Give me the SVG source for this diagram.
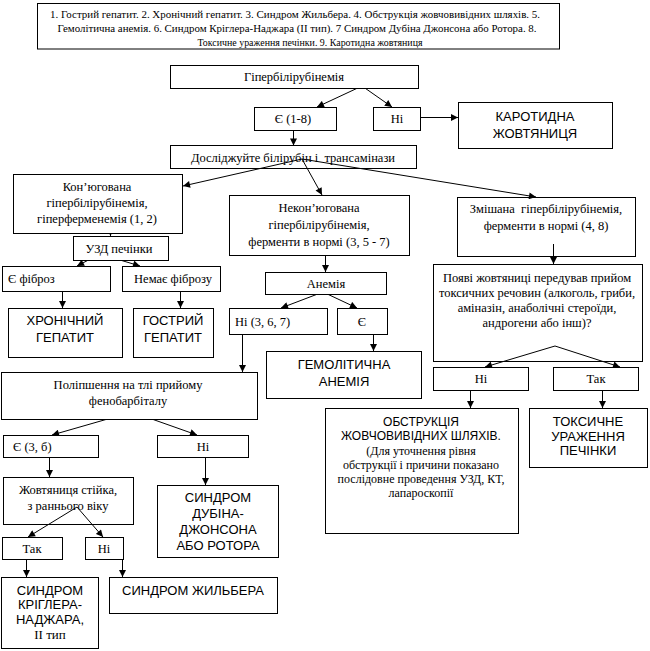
<svg xmlns="http://www.w3.org/2000/svg" width="650" height="651" viewBox="0 0 650 651">
<style>
.box{fill:#fff;stroke:#000;stroke-width:1}
.s{font-family:"Liberation Serif","Times New Roman",serif;font-size:12.5px;fill:#000;text-anchor:middle}
.l{font-family:"Liberation Serif","Times New Roman",serif;font-size:12.5px;fill:#000}
.c{font-family:"Liberation Sans",Arial,sans-serif;font-size:13px;fill:#000;text-anchor:middle}
.g{font-family:"Liberation Serif","Times New Roman",serif;font-size:10.5px;fill:#000;text-anchor:middle}
.ln{stroke:#000;stroke-width:1;fill:none}
.a{marker-end:url(#ah)}
</style>
<defs>
<marker id="ah" viewBox="0 0 10 10" refX="10" refY="5" markerWidth="8" markerHeight="7" markerUnits="userSpaceOnUse" orient="auto"><path d="M0,0 L10,5 L0,10 z" fill="#000"/></marker>
</defs>
<rect width="650" height="651" fill="#fff"/>
<g id="legend">
<rect class="box" x="37.5" y="3.5" width="522" height="45.5"/>
<text class="g" x="295" y="18" textLength="490" lengthAdjust="spacingAndGlyphs">1. Гострий гепатит. 2. Хронічний гепатит. 3. Синдром Жильбера. 4. Обструкція жовчовивідних шляхів. 5.</text>
<text class="g" x="297" y="32" textLength="479" lengthAdjust="spacingAndGlyphs">Гемолітична анемія. 6. Синдром Кріглера-Наджара (ІІ тип). 7 Синдром Дубіна Джонсона або Ротора. 8.</text>
<text class="g" x="310" y="45.5" textLength="225" lengthAdjust="spacingAndGlyphs">Токсичне ураження печінки. 9. Каротидна жовтяниця</text>
</g>
<g id="connectors">
<line class="ln a" x1="362" y1="86" x2="317" y2="107"/>
<line class="ln a" x1="362" y1="86" x2="392" y2="107"/>
<line class="ln a" x1="293.5" y1="125" x2="293.5" y2="145.5"/>
<line class="ln a" x1="420.5" y1="117.5" x2="458" y2="117.5"/>
<line class="ln a" x1="302" y1="159" x2="183" y2="186"/>
<line class="ln a" x1="302" y1="159" x2="322" y2="195"/>
<line class="ln a" x1="302" y1="159" x2="536" y2="197"/>
<line class="ln a" x1="110.5" y1="225" x2="110.5" y2="236"/>
<line class="ln a" x1="100" y1="254" x2="77" y2="266"/>
<line class="ln a" x1="100" y1="254" x2="140" y2="266"/>
<line class="ln" x1="97" y1="254.5" x2="156" y2="254.5"/>
<line class="ln a" x1="62.5" y1="281" x2="62.5" y2="308"/>
<line class="ln a" x1="180.5" y1="281" x2="180.5" y2="308"/>
<line class="ln a" x1="325.5" y1="232" x2="325.5" y2="272"/>
<line class="ln a" x1="323" y1="292" x2="281" y2="308"/>
<line class="ln a" x1="323" y1="292" x2="357" y2="308"/>
<line class="ln a" x1="373.5" y1="328" x2="373.5" y2="351"/>
<line class="ln a" x1="242.5" y1="329" x2="242.5" y2="372"/>
<line class="ln a" x1="132" y1="412" x2="52" y2="435"/>
<line class="ln a" x1="132" y1="412" x2="197" y2="435"/>
<line class="ln a" x1="49.5" y1="455" x2="49.5" y2="477"/>
<line class="ln a" x1="205.5" y1="455" x2="205.5" y2="485"/>
<line class="ln a" x1="77" y1="507" x2="28" y2="537"/>
<line class="ln a" x1="77" y1="507" x2="103" y2="537"/>
<line class="ln a" x1="26.5" y1="555" x2="26.5" y2="577"/>
<line class="ln a" x1="122.5" y1="555" x2="122.5" y2="577"/>
<line class="ln a" x1="553.5" y1="244" x2="553.5" y2="264"/>
<line class="ln a" x1="555" y1="346" x2="485" y2="367"/>
<line class="ln a" x1="555" y1="346" x2="620" y2="367"/>
<line class="ln a" x1="470.5" y1="386" x2="470.5" y2="408"/>
<line class="ln a" x1="602.5" y1="386" x2="602.5" y2="408"/>
</g>
<g id="n1"><rect class="box" x="170.5" y="65.5" width="248" height="23"/><text class="s" x="294" y="81">Гіпербілірубінемія</text></g>
<g id="n2"><rect class="box" x="254.5" y="107.5" width="82" height="23"/><text class="s" x="293" y="123">Є (1-8)</text></g>
<g id="n3"><rect class="box" x="373.5" y="107.5" width="47" height="23"/><text class="s" x="397" y="123">Ні</text></g>
<g id="n4"><rect class="box" x="458.5" y="102.5" width="154" height="46"/><text class="c" x="535" y="121">КАРОТИДНА</text><text class="c" x="535" y="138">ЖОВТЯНИЦЯ</text></g>
<g id="n5"><rect class="box" x="170.5" y="145.5" width="246" height="23" fill-opacity="0"/><text class="s" x="293" y="162" xml:space="preserve">Досліджуйте білірубін і  трансамінази</text></g>
<g id="n6"><rect class="box" x="13.5" y="174.5" width="169" height="59"/><text class="s" x="97" y="191">Кон’югована</text><text class="s" x="97" y="207">гіпербілірубінемія,</text><text class="s" x="97" y="223">гіперферменемія (1, 2)</text></g>
<g id="n7"><rect class="box" x="73.5" y="236.5" width="95" height="24"/><text class="s" x="119" y="253">УЗД печінки</text></g>
<g id="n8"><rect class="box" x="2.5" y="266.5" width="108" height="25"/><text class="l" x="8" y="283">Є фіброз</text></g>
<g id="n9"><rect class="box" x="122.5" y="266.5" width="98" height="25"/><text class="s" x="173" y="283">Немає фіброзу</text></g>
<g id="n10"><rect class="box" x="8.5" y="308.5" width="114" height="49"/><text class="c" x="65" y="325">ХРОНІЧНИЙ</text><text class="c" x="65" y="342">ГЕПАТИТ</text></g>
<g id="n11"><rect class="box" x="133.5" y="308.5" width="80" height="49"/><text class="c" x="173" y="325">ГОСТРИЙ</text><text class="c" x="173" y="342">ГЕПАТИТ</text></g>
<g id="n12"><rect class="box" x="229.5" y="195.5" width="180" height="60"/><text class="s" x="319" y="212">Некон’югована</text><text class="s" x="319" y="229">гіпербілірубінемія,</text><text class="s" x="319" y="246">ферменти в нормі (3, 5 - 7)</text></g>
<g id="n13"><rect class="box" x="265.5" y="272.5" width="121" height="22"/><text class="s" x="326" y="288">Анемія</text></g>
<g id="n14"><rect class="box" x="229.5" y="308.5" width="98" height="26"/><text class="l" x="235" y="326">Ні (3, 6, 7)</text></g>
<g id="n15"><rect class="box" x="337.5" y="308.5" width="50" height="26"/><text class="s" x="362" y="326">Є</text></g>
<g id="n16"><rect class="box" x="266.5" y="351.5" width="155" height="47"/><text class="c" x="344" y="369">ГЕМОЛІТИЧНА</text><text class="c" x="344" y="386">АНЕМІЯ</text></g>
<g id="n17"><rect class="box" x="1.5" y="372.5" width="256" height="47"/><text class="s" x="128" y="389">Поліпшення на тлі прийому</text><text class="s" x="128" y="405">фенобарбіталу</text></g>
<g id="n18"><rect class="box" x="3.5" y="435.5" width="95" height="22"/><text class="l" x="13" y="451">Є (3, б)</text></g>
<g id="n19"><rect class="box" x="157.5" y="435.5" width="91" height="22"/><text class="s" x="203" y="451">Ні</text></g>
<g id="n20"><rect class="box" x="3.5" y="477.5" width="130" height="47" fill-opacity="0"/><text class="s" x="68" y="494">Жовтяниця стійка,</text><text class="s" x="68" y="510">з раннього віку</text></g>
<g id="n21"><rect class="box" x="2.5" y="537.5" width="60" height="22"/><text class="s" x="32" y="553">Так</text></g>
<g id="n22"><rect class="box" x="85.5" y="537.5" width="38" height="22"/><text class="s" x="104" y="553">Ні</text></g>
<g id="n23"><rect class="box" x="1.5" y="577.5" width="97" height="71"/><text class="c" x="50" y="595">СИНДРОМ</text><text class="c" x="50" y="609">КРІГЛЕРА-</text><text class="c" x="50" y="624">НАДЖАРА,</text><text class="s" x="50" y="639" style="font-size:13px">II тип</text></g>
<g id="n24"><rect class="box" x="109.5" y="577.5" width="168" height="36"/><text class="c" x="193" y="595">СИНДРОМ ЖИЛЬБЕРА</text></g>
<g id="n25"><rect class="box" x="157.5" y="485.5" width="121" height="72"/><text class="c" x="218" y="502">СИНДРОМ</text><text class="c" x="218" y="518">ДУБІНА-</text><text class="c" x="218" y="534">ДЖОНСОНА</text><text class="c" x="218" y="550">АБО РОТОРА</text></g>
<g id="n26"><rect class="box" x="457.5" y="197.5" width="178" height="59" fill-opacity="0"/><text class="s" x="546" y="213" xml:space="preserve">Змішана  гіпербілірубінемія,</text><text class="s" x="546" y="230">ферменти в нормі (4, 8)</text></g>
<g id="n27"><rect class="box" x="433.5" y="264.5" width="209" height="97" fill-opacity="0"/><text class="s" x="537" y="282">Появі жовтяниці передував прийом</text><text class="s" x="537" y="297">токсичних речовин (алкоголь, гриби,</text><text class="s" x="537" y="312">аміназін, анаболічні стероїди,</text><text class="s" x="537" y="327">андрогени або інш)?</text></g>
<g id="n28"><rect class="box" x="433.5" y="367.5" width="95" height="23"/><text class="s" x="481" y="383">Ні</text></g>
<g id="n29"><rect class="box" x="553.5" y="367.5" width="85" height="23"/><text class="s" x="596" y="383">Так</text></g>
<g id="n30"><rect class="box" x="325.5" y="408.5" width="193" height="125"/><text class="c" x="421" y="426" style="font-size:12px">ОБСТРУКЦІЯ</text><text class="c" x="421" y="440" style="font-size:12px">ЖОВЧОВИВІДНИХ ШЛЯХІВ.</text><text class="s" x="421" y="455" style="font-size:12px">(Для уточнення рівня</text><text class="s" x="421" y="469" style="font-size:12px">обструкції і причини показано</text><text class="s" x="421" y="483" style="font-size:12px">послідовне проведення УЗД, КТ,</text><text class="s" x="421" y="497" style="font-size:12px">лапароскопії</text></g>
<g id="n31"><rect class="box" x="529.5" y="408.5" width="118" height="59"/><text class="c" x="588" y="426">ТОКСИЧНЕ</text><text class="c" x="588" y="441">УРАЖЕННЯ</text><text class="c" x="588" y="455">ПЕЧІНКИ</text></g>
</svg>
